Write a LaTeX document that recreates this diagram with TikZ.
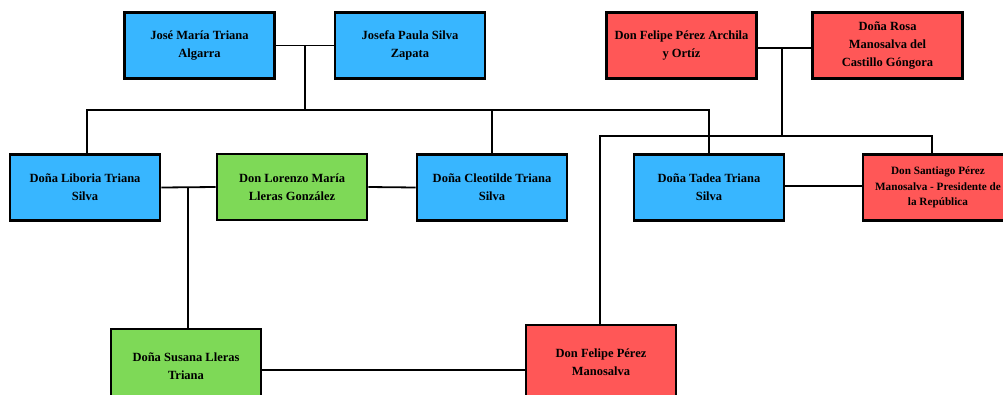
\documentclass[tikz,border=0pt]{standalone}
\usepackage{fontspec}
\setmainfont{Liberation Serif}
\definecolor{famblue}{HTML}{38B6FF}
\definecolor{famgreen}{HTML}{7ED957}
\definecolor{famred}{HTML}{FF5757}
\begin{document}
\begin{tikzpicture}[x=1pt, y=-1pt,
    person/.style={draw=black, line width=2.6pt, minimum width=150pt, minimum height=66pt,
                   align=center, inner sep=2pt, font=\bfseries\fontsize{12.5}{18}\selectfont},
    triana/.style={person, fill=famblue},
    lleras/.style={person, fill=famgreen},
    perez/.style={person, fill=famred},
    link/.style={line width=1.8pt}]
    \clip (0,0) rectangle (1003,394);
    \fill[white] (0,0) rectangle (1003,394);
    % grandparents
    \node[triana] (jose) at (199.5,45.5) {José María Triana\\Algarra};
    \node[triana] (josefa) at (410,45.5) {Josefa Paula Silva\\Zapata};
    \node[perez] (felipeA) at (681.5,45.5) {Don Felipe Pérez Archila\\y Ortíz};
    \node[perez] (rosa) at (887.5,45.5) {Doña Rosa\\Manosalva del\\Castillo Góngora};
    % children and spouses
    \node[triana] (liboria) at (85,187.5) {Doña Liboria Triana\\Silva};
    \node[lleras] (lorenzo) at (292,187) {Don Lorenzo María\\Lleras González};
    \node[triana] (cleotilde) at (492,187.5) {Doña Cleotilde Triana\\Silva};
    \node[triana] (tadea) at (709,187.5) {Doña Tadea Triana\\Silva};
    \node[perez, font=\bfseries\fontsize{11.2}{15.5}\selectfont] (santiago) at (938,187.5)
        {Don Santiago Pérez\\Manosalva - Presidente de\\la República};
    % grandchildren (cut off by the lower edge)
    \node[lleras, minimum height=74pt] (susana) at (186,366) {Doña Susana Lleras\\Triana};
    \node[perez, minimum height=74pt] (felipeM) at (601,362) {Don Felipe Pérez\\Manosalva};

    % Triana Silva family
    \draw[link] (jose.east) -- (josefa.west);
    \coordinate (m1) at (305,45.5);
    \coordinate (b1) at (305,110);
    \draw[link] (m1) -- (b1);
    \draw[link] ([xshift=2pt]liboria.north) |- (tadea.north |- b1) -- (tadea.north);
    \draw[link] (cleotilde.north) -- (cleotilde.north |- b1);
    % Pérez Manosalva family
    \draw[link] ([yshift=-2.5pt]felipeA.east) -- ([yshift=-2.5pt]rosa.west);
    \coordinate (m2) at (782,48);
    \coordinate (b2) at (782,136);
    \draw[link] (m2) -- (b2);
    \draw[link] ([xshift=-1pt]felipeM.north) |- ([xshift=-6pt]santiago.north |- b2) -- ([xshift=-6pt]santiago.north);
    % marriages
    \draw[link] (liboria.east) -- (lorenzo.west);
    \coordinate (m3) at (188,188);
    \draw[link] (m3) -- ([xshift=2pt]susana.north);
    \draw[link] (lorenzo.east) -- (cleotilde.west);
    \draw[link] ([yshift=1.5pt]tadea.east) -- ([yshift=1.5pt]santiago.west);
    \draw[link] ([yshift=-4pt]susana.east) -- ([yshift=-4pt]susana.east -| felipeM.west);
\end{tikzpicture}
\end{document}
